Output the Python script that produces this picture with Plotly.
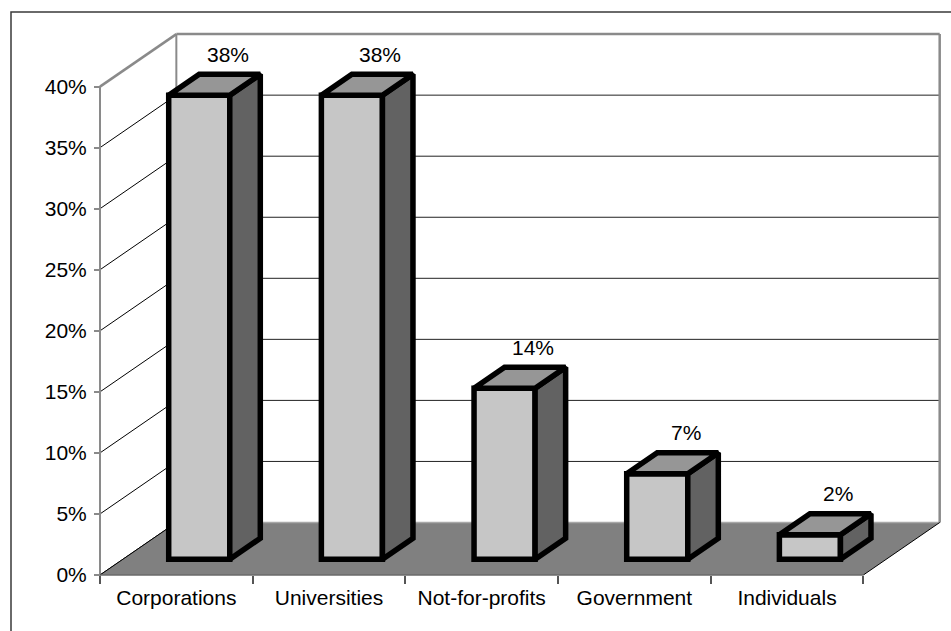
import plotly.graph_objects as go

# ---- data -------------------------------------------------------------
categories = ["Corporations", "Universities", "Not-for-profits", "Government", "Individuals"]
shares = [38, 38, 14, 7, 2]          # percent of total
y_ticks = [0, 5, 10, 15, 20, 25, 30, 35, 40]
y_tick_labels = [f"{t}%" for t in y_ticks]

# ---- geometry of the pseudo-3D frame ----------------------------------
W, H = 951, 631
X0_PX, Y0_PX = 100, 575      # front-left corner of the floor (category 0, 0%)
CAT_PX = 152.67              # pixels per category slot
PCT_PX = 12.21               # pixels per percentage point
L, R, T, B = 85, 946, 25, 590  # plotting box (a little padding round the walls)

DX, DY = 0.5, 4.3            # depth vector, in (category, percent) units
BAR_W = 0.4                  # bar width as a share of a category slot
D_FRONT, D_BACK = 0.3, 0.7   # bar depth span
WALL_TOP = 40
n = len(categories)

FONT = "Liberation Sans, Arial, sans-serif"
GRAY_EDGE = "#8a8a8a"
FLOOR = "#808080"
FRONT_C, SIDE_C, TOP_C = "#c6c6c6", "#626262", "#969696"

shapes = []


def line(x0, y0, x1, y1, color, width):
    shapes.append(dict(type="line", xref="x", yref="y", x0=x0, y0=y0, x1=x1, y1=y1,
                       line=dict(color=color, width=width), layer="below"))


def poly(pts, fill):
    path = "M " + " L ".join(f"{x},{y}" for x, y in pts) + " Z"
    shapes.append(dict(type="path", xref="x", yref="y", path=path,
                       fillcolor=fill, line=dict(width=0), layer="below"))


# walls
poly([(0, 0), (0, WALL_TOP), (DX, WALL_TOP + DY), (DX, DY)], "white")
poly([(DX, DY), (DX, WALL_TOP + DY), (n + DX, WALL_TOP + DY), (n + DX, DY)], "white")

# gridlines on the side and back walls
for g in y_ticks[:-1]:
    line(0, g, DX, g + DY, "#000000", 1)
    line(DX, g + DY, n + DX, g + DY, "#222222", 1)

# wall edges
line(0, 0, 0, WALL_TOP, GRAY_EDGE, 2)
line(0, WALL_TOP, DX, WALL_TOP + DY, GRAY_EDGE, 2.5)
line(DX, DY, DX, WALL_TOP + DY, GRAY_EDGE, 2)
line(DX, WALL_TOP + DY, n + DX, WALL_TOP + DY, GRAY_EDGE, 2.5)
line(n + DX, DY, n + DX, WALL_TOP + DY, GRAY_EDGE, 2.5)

# floor
poly([(0, 0), (n, 0), (n + DX, DY), (DX, DY)], FLOOR)
line(DX, DY, n + DX, DY, "#a8a8a8", 1.5)
line(0, 0, DX, DY, "#000000", 1)
line(n, 0, n + DX, DY, "#000000", 1)
line(0, 0, n, 0, "#6a6a6a", 1.5)

# outer chart border
shapes.append(dict(type="rect", xref="paper", yref="paper",
                   x0=(11 - L) / (R - L), x1=1.3,
                   y0=-0.3, y1=(B - 12) / (B - T),
                   line=dict(color="#3a3a3a", width=1.5), fillcolor="rgba(0,0,0,0)"))

# ---- bars ---------------------------------------------------------------
fig = go.Figure()
depth = D_BACK - D_FRONT
annotations = []
for i, v in enumerate(shares):
    c = i + 0.5
    fx0 = c - BAR_W / 2 + D_FRONT * DX
    fx1 = fx0 + BAR_W
    fy0 = D_FRONT * DY
    fy1 = v + D_FRONT * DY
    ex, ey = depth * DX, depth * DY
    faces = [
        ([(fx0, fy0), (fx1, fy0), (fx1, fy1), (fx0, fy1)], FRONT_C),
        ([(fx1, fy0), (fx1 + ex, fy0 + ey), (fx1 + ex, fy1 + ey), (fx1, fy1)], SIDE_C),
        ([(fx0, fy1), (fx1, fy1), (fx1 + ex, fy1 + ey), (fx0 + ex, fy1 + ey)], TOP_C),
    ]
    for pts, col in faces:
        xs = [p[0] for p in pts] + [pts[0][0], pts[1][0]]
        ys = [p[1] for p in pts] + [pts[0][1], pts[1][1]]
        fig.add_trace(go.Scatter(x=xs, y=ys, mode="lines", fill="toself",
                                 fillcolor=col, line=dict(color="black", width=5.5),
                                 hoverinfo="skip", showlegend=False))
    annotations.append(dict(x=c + D_BACK * DX, y=v + D_BACK * DY, xref="x", yref="y",
                            text=f"{v}%", showarrow=False, yshift=20, xshift=-2,
                            font=dict(family=FONT, size=21, color="black")))

fig.update_layout(
    width=W, height=H, autosize=False,
    margin=dict(l=L, r=W - R, t=T, b=H - B, pad=0),
    paper_bgcolor="white", plot_bgcolor="white",
    shapes=shapes, annotations=annotations,
    font=dict(family=FONT, size=21, color="black"),
    xaxis=dict(
        range=[(L - X0_PX) / CAT_PX, (R - X0_PX) / CAT_PX],
        anchor="free", position=(B - Y0_PX) / (B - T),
        tickmode="array", tickvals=[i + 0.5 for i in range(n)], ticktext=categories,
        ticks="", showgrid=False, zeroline=False, showline=False,
        ticklabelstandoff=8,
        minor=dict(tickmode="array", tickvals=list(range(n + 1)), ticks="outside",
                   ticklen=8, tickwidth=1.5, tickcolor="#555555", showgrid=False),
        tickfont=dict(family=FONT, size=21, color="black"),
        fixedrange=True,
    ),
    yaxis=dict(
        range=[(Y0_PX - B) / PCT_PX, (Y0_PX - T) / PCT_PX],
        anchor="free", position=(X0_PX - L) / (R - L),
        tickmode="array", tickvals=y_ticks, ticktext=y_tick_labels,
        ticks="outside", ticklen=6, tickwidth=1.5, tickcolor=GRAY_EDGE,
        ticklabelstandoff=3,
        showgrid=False, zeroline=False, showline=False,
        tickfont=dict(family=FONT, size=21, color="black"),
        fixedrange=True,
    ),
)

fig.write_html("out.html")
